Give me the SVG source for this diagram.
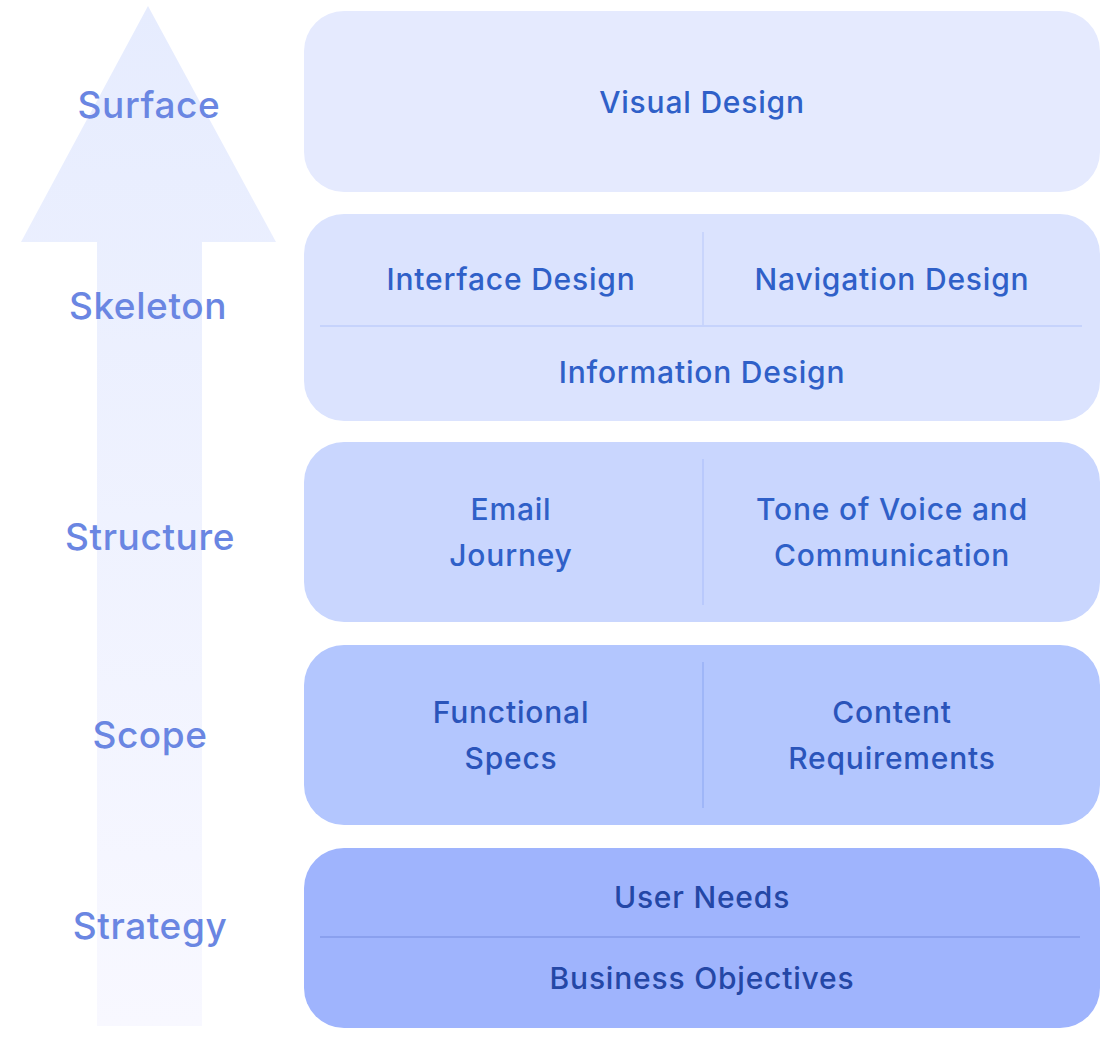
<svg xmlns="http://www.w3.org/2000/svg" width="1120" height="1052" viewBox="0 0 1120 1052">
  <defs>
    <linearGradient id="arrowGrad" x1="0" y1="0" x2="0" y2="1">
      <stop offset="0" stop-color="#E6ECFE"/>
      <stop offset="1" stop-color="#F8F8FF"/>
    </linearGradient>
    <style>
      text { font-family: Inter, "Noto Sans", "Liberation Sans", sans-serif; text-anchor: middle; font-weight: 500; }
      .lvl { font-size: 37px; fill: #6A86E2; letter-spacing: 0.6px; }
      .item { font-size: 30px; fill: #2F60C8; letter-spacing: 0.8px; }
      .item.dk { fill: #2A54BA; }
      .item.dk2 { fill: #2447A6; }
      .sep { stroke-width: 2; fill: none; }
    </style>
  </defs>
  <rect width="1120" height="1052" fill="#FFFFFF"/>

  <g id="arrow">
    <polygon points="148,6 276,242 202,242 202,1026 97,1026 97,242 21,242" fill="url(#arrowGrad)"/>
  </g>

  <g id="level-labels">
    <text class="lvl" x="149" y="118">Surface</text>
    <text class="lvl" x="148" y="319">Skeleton</text>
    <text class="lvl" x="150" y="550">Structure</text>
    <text class="lvl" x="150" y="748">Scope</text>
    <text class="lvl" x="150" y="939">Strategy</text>
  </g>

  <g id="surface">
    <rect x="304" y="11" width="796" height="181" rx="40" fill="#E5EAFE"/>
    <text class="item" x="702" y="113">Visual Design</text>
  </g>

  <g id="skeleton">
    <rect x="304" y="214" width="796" height="207" rx="40" fill="#DBE3FE"/>
    <line class="sep" x1="320" y1="326" x2="1082" y2="326" stroke="#C6D3FC"/>
    <line class="sep" x1="703" y1="232" x2="703" y2="325" stroke="#C9D5FC"/>
    <text class="item" x="511" y="290">Interface Design</text>
    <text class="item" x="892" y="290">Navigation Design</text>
    <text class="item" x="702" y="383">Information Design</text>
  </g>

  <g id="structure">
    <rect x="304" y="442" width="796" height="180" rx="40" fill="#C9D6FE"/>
    <line class="sep" x1="703" y1="459" x2="703" y2="605" stroke="#B9C9FC"/>
    <text class="item" x="511" y="520">Email</text>
    <text class="item" x="511" y="566">Journey</text>
    <text class="item" x="892" y="520">Tone of Voice and</text>
    <text class="item" x="892" y="566">Communication</text>
  </g>

  <g id="scope">
    <rect x="304" y="645" width="796" height="180" rx="40" fill="#B3C6FE"/>
    <line class="sep" x1="703" y1="662" x2="703" y2="808" stroke="#9FB6F8"/>
    <text class="item dk" x="511" y="723">Functional</text>
    <text class="item dk" x="511" y="769">Specs</text>
    <text class="item dk" x="892" y="723">Content</text>
    <text class="item dk" x="892" y="769">Requirements</text>
  </g>

  <g id="strategy">
    <rect x="304" y="848" width="796" height="180" rx="40" fill="#9FB4FD"/>
    <line class="sep" x1="320" y1="937" x2="1080" y2="937" stroke="#8AA0EE"/>
    <text class="item dk2" x="702" y="908">User Needs</text>
    <text class="item dk2" x="702" y="989">Business Objectives</text>
  </g>

  <g id="connectors"/>
</svg>
